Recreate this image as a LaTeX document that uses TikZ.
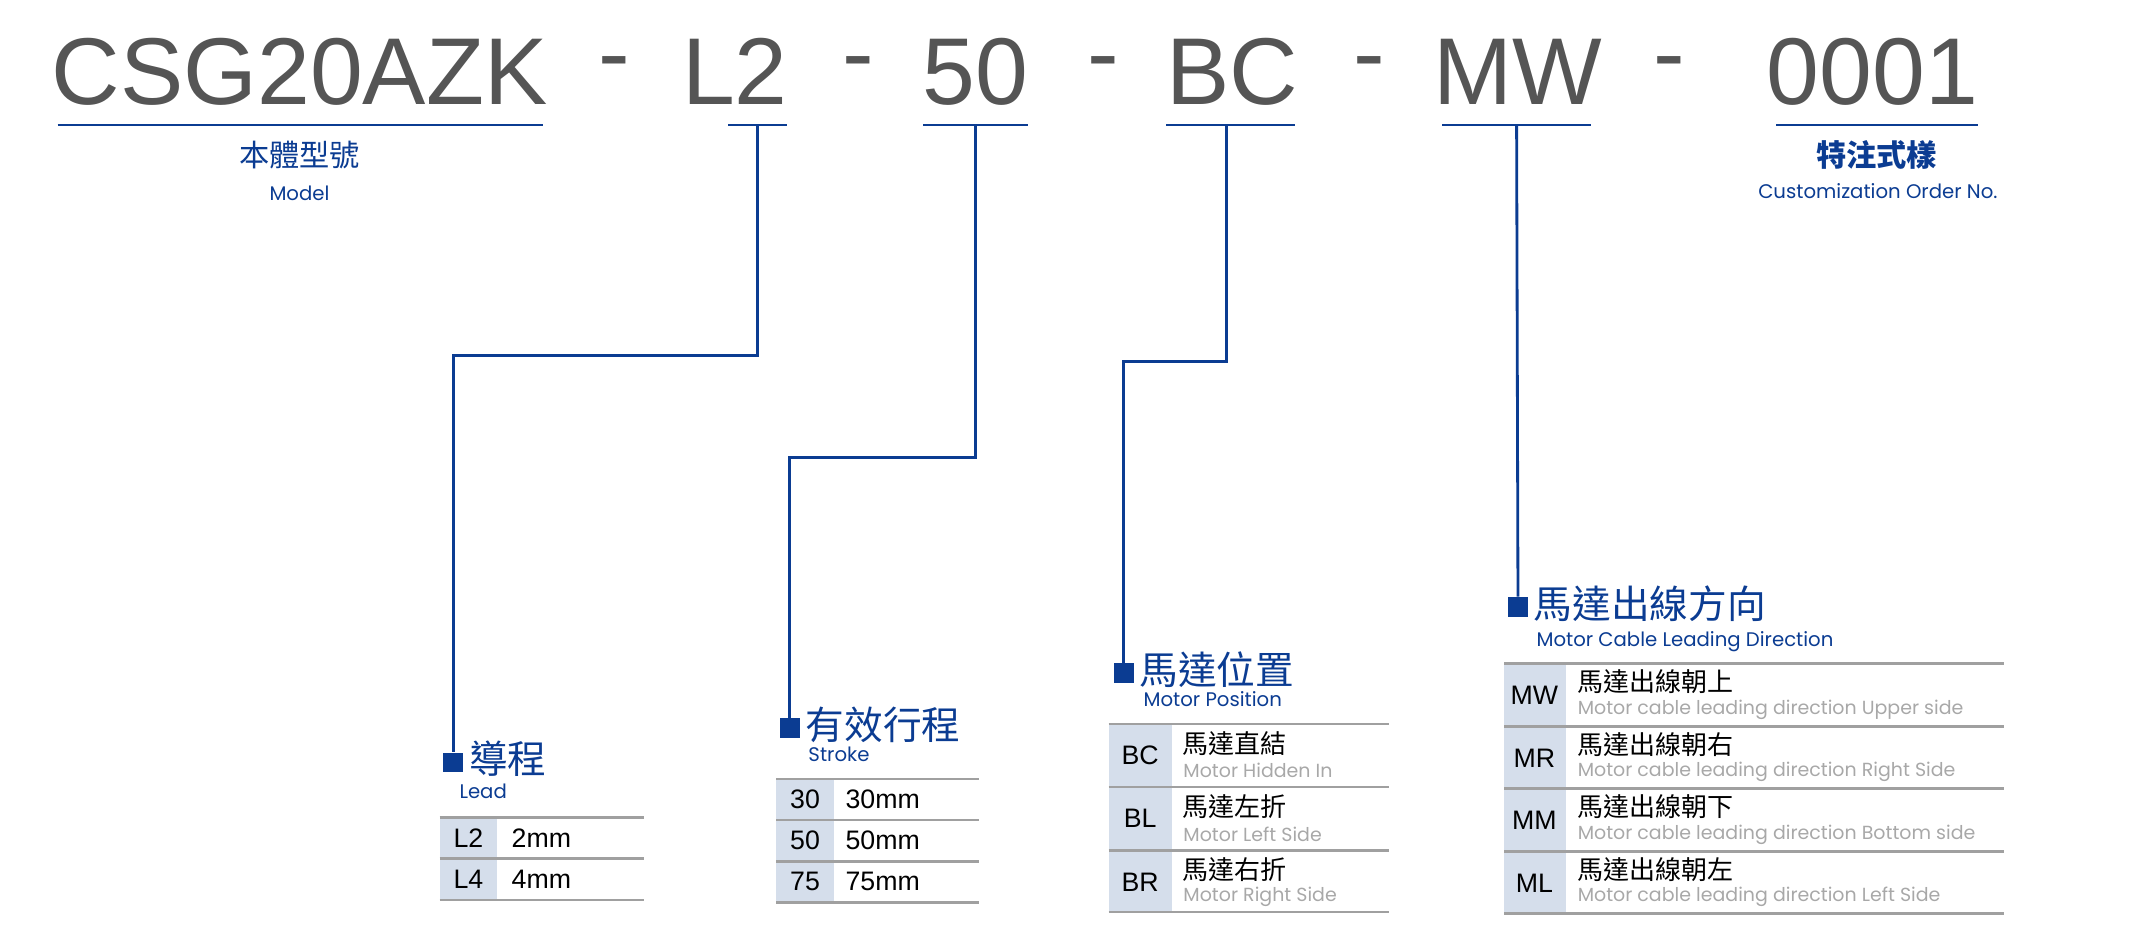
\documentclass[tikz,border=0pt]{standalone}
\usepackage{fontspec}
\setmainfont{Liberation Sans}
\newfontfamily\cjk{Noto Sans CJK TC}
\newfontfamily\geo{Poppins}
\usetikzlibrary{positioning}

\definecolor{navy}{HTML}{0B3C92}
\definecolor{titlegray}{HTML}{555555}
\definecolor{rulegray}{HTML}{A0A0A0}
\definecolor{cellblue}{HTML}{D5DEEB}
\definecolor{subgray}{HTML}{A8A8A8}

\tikzset{
  title/.style={text=titlegray,font=\fontsize{27}{30}\selectfont,inner sep=0pt},
  uline/.style={navy,line width=0.6pt},
  link/.style={navy,line width=0.8pt},
  hbox/.style={fill=navy,minimum size=5.6pt,inner sep=0pt},
  head/.style={text=navy,font=\cjk\fontsize{11}{12}\selectfont,inner sep=0pt,anchor=south west},
  sub/.style={text=navy,font=\geo\fontsize{5.6}{6}\selectfont,inner sep=0pt,anchor=north west},
  code/.style={font=\fontsize{7.6}{8}\selectfont,inner sep=0pt},
  val/.style={font=\fontsize{7.6}{8}\selectfont,inner sep=0pt,anchor=west},
  zh/.style={font=\cjk\fontsize{7.4}{8}\selectfont,inner sep=0pt,anchor=west},
  en/.style={text=subgray,font=\geo\fontsize{5.4}{6}\selectfont,inner sep=0pt,anchor=west},
  row/.style={rulegray,line width=0.7pt},
}

\begin{document}
\begin{tikzpicture}[x=0.01374cm,y=-0.01374cm]
  \useasboundingbox (0,0) rectangle (1560,685.6);

  % model code
  \node[title] (model) at (218,52) {CSG20AZK};
  \node[title] (d1) at (447,52) {-};
  \node[title] (lead) at (535,52) {L2};
  \node[title] (d2) at (625,52) {-};
  \node[title] (stroke) at (710,52) {50};
  \node[title] (d3) at (803,52) {-};
  \node[title] (pos) at (897,52) {BC};
  \node[title] (d4) at (997,52) {-};
  \node[title] (cable) at (1105,52) {MW};
  \node[title] (d5) at (1215,52) {-};
  \node[title] (order) at (1363,52) {0001};

  \draw[uline] (42,91) -- (395,91);
  \draw[uline] (530,91) -- (573,91) coordinate[pos=0.5] (leadu);
  \draw[uline] (672,91) -- (748,91);
  \coordinate (strokeu) at (710,91);
  \draw[uline] (849,91) -- (943,91);
  \coordinate (posu) at (893,91);
  \draw[uline] (1050,91) -- (1158,91);
  \coordinate (cableu) at (1104,91);
  \draw[uline] (1293,91) -- (1440,91);

  \node[text=navy,font=\cjk\fontsize{8.6}{9}\selectfont,inner sep=0pt] (modelzh) at (218,113) {本體型號};
  \node[text=navy,font=\geo\fontsize{5.6}{6}\selectfont,inner sep=0pt] (modelen) at (218,141) {Model};
  \node[text=navy,font=\cjk\bfseries\fontsize{8.6}{9}\selectfont,inner sep=0pt] (orderzh) at (1366,113) {特注式樣};
  \node[text=navy,font=\geo\fontsize{5.6}{6}\selectfont,inner sep=0pt] (orderen) at (1367,139) {Customization Order No.};

  % lead
  \node[hbox] (leadbox) at (330,555) {};
  \node[head] (leadzh) at (341,566) {導程};
  \node[sub] (leaden) at (334,570) {Lead};
  \begin{scope}[xshift=320*0.01374cm,yshift=-595*0.01374cm]
    \fill[cellblue] (0,0) rectangle (42,60);
    \foreach \y in {0,30,60} \draw[row] (0,\y) -- (149,\y);
    \foreach \c/\v [count=\i] in {L2/2mm,L4/4mm} {
      \node[code] (lc\i) at (21,30*\i-15) {\c};
      \node[val] (lv\i) at (52,30*\i-15) {\v};
    }
  \end{scope}

  % stroke
  \node[hbox] (strokebox) at (575,530) {};
  \node[head] (strokezh) at (586,541) {有效行程};
  \node[sub] (strokeen) at (588,543) {Stroke};
  \begin{scope}[xshift=565*0.01374cm,yshift=-567*0.01374cm]
    \fill[cellblue] (0,0) rectangle (42,90);
    \foreach \y in {0,30,60,90} \draw[row] (0,\y) -- (148,\y);
    \foreach \c/\v [count=\i] in {30/30mm,50/50mm,75/75mm} {
      \node[code] (sc\i) at (21,30*\i-15) {\c};
      \node[val] (sv\i) at (50,30*\i-15) {\v};
    }
  \end{scope}

  % motor position
  \node[hbox] (posbox) at (818,490) {};
  \node[head] (poszh) at (829,501) {馬達位置};
  \node[sub] (posen) at (832,503) {Motor Position};
  \begin{scope}[xshift=807*0.01374cm,yshift=-527*0.01374cm]
    \fill[cellblue] (0,0) rectangle (46,137);
    \foreach \y in {0,46,92,137} \draw[row] (0,\y) -- (204,\y);
    \foreach \c/\z/\e [count=\i] in {BC/馬達直結/Motor Hidden In,BL/馬達左折/Motor Left Side,BR/馬達右折/Motor Right Side} {
      \node[code] (pc\i) at (23,46*\i-23) {\c};
      \node[zh] (pz\i) at (53,46*\i-32) {\z};
      \node[en] (pe\i) at (54,46*\i-12) {\e};
    }
  \end{scope}

  % motor cable
  \node[hbox] (cablebox) at (1105,442) {};
  \node[head] (cablezh) at (1116,453) {馬達出線方向};
  \node[sub] (cableen) at (1118,459) {Motor Cable Leading Direction};
  \begin{scope}[xshift=1095*0.01374cm,yshift=-483*0.01374cm]
    \fill[cellblue] (0,0) rectangle (45,182);
    \foreach \y in {0,46,91,137,182} \draw[row] (0,\y) -- (364,\y);
    \foreach \c/\z/\e [count=\i] in {MW/馬達出線朝上/Motor cable leading direction Upper side,
        MR/馬達出線朝右/Motor cable leading direction Right Side,
        MM/馬達出線朝下/Motor cable leading direction Bottom side,
        ML/馬達出線朝左/Motor cable leading direction Left Side} {
      \node[code] (cc\i) at (22,45.5*\i-22) {\c};
      \node[zh] (cz\i) at (53,45.5*\i-32) {\z};
      \node[en] (ce\i) at (53,45.5*\i-12) {\e};
    }
  \end{scope}

  % connectors
  \draw[link] (leadu) -- (leadu |- 0,259) -| (leadbox.north);
  \draw[link] (strokeu) -- (strokeu |- 0,333) -| (strokebox.north);
  \draw[link] (posu) -- (posu |- 0,263) -| (posbox.north);
  \draw[link] (cableu) -- (cablebox.north);
\end{tikzpicture}
\end{document}
